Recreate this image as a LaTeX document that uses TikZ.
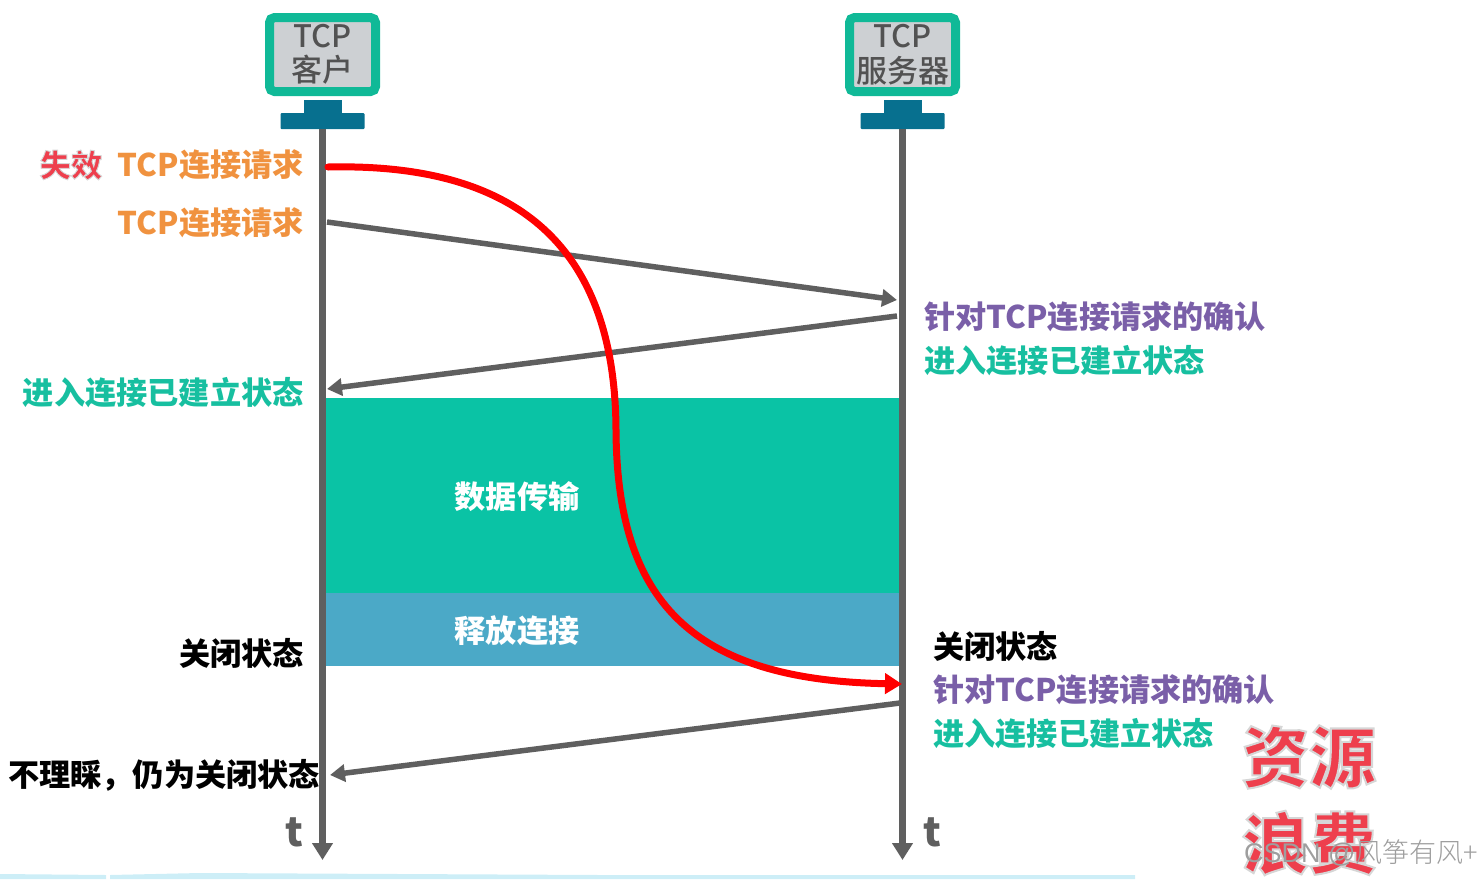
\documentclass[tikz,border=0pt]{standalone}
\usepackage{fontspec}
\setmainfont{Noto Sans CJK SC}
\newfontfamily\halofont[FakeBold=3]{Noto Sans CJK SC Black}
\newfontfamily\monfont{Noto Sans CJK SC Medium}
\newfontfamily\marklatin{Liberation Sans}
\newfontfamily\markcjk{Noto Sans CJK SC Light}
\usetikzlibrary{arrows.meta}
\definecolor{cgreen}{HTML}{10B997}
\definecolor{cscreen}{HTML}{CDD0D3}
\definecolor{cstand}{HTML}{07708F}
\definecolor{caxis}{HTML}{5F5F5F}
\definecolor{cblock}{HTML}{0AC3A5}
\definecolor{crelease}{HTML}{4BA9C7}
\definecolor{corange}{HTML}{F0923F}
\definecolor{cpurple}{HTML}{7A5FA8}
\definecolor{cteal}{HTML}{17BFA0}
\definecolor{cwarn}{HTML}{EE3F4D}
\definecolor{cband}{HTML}{CDEEF7}
\newcommand{\halotext}[1]{{\halofont\special{pdf:code 0.84 0.84 0.84 RG}#1}}
\tikzset{
  lab/.style={inner sep=0pt,font=\fontsize{31.2}{34}\selectfont\bfseries},
  monitor/.style={draw=cgreen,fill=cscreen,line width=9pt,rounded corners=5pt,minimum width=106pt,minimum height=74pt,inner sep=0pt,align=center,text=black!68,font=\fontsize{31}{34.5}\selectfont\monfont},
  standtop/.style={fill=cstand,draw=none,minimum width=38pt,minimum height=16pt,inner sep=0pt},
  standbase/.style={fill=cstand,draw=none,rounded corners=1pt,minimum width=84pt,minimum height=16pt,inner sep=0pt},
  axisline/.style={draw=caxis,line width=7.5pt,-{Triangle[length=17pt,width=20pt]}},
  msg/.style={draw=caxis,line width=5.5pt,-{Triangle[length=15pt,width=17pt]}},
  lost/.style={draw=red,line width=7pt,line cap=round,-{Triangle[length=17pt,width=20pt]}},
  tlabel/.style={inner sep=0pt,text=caxis,font=\fontsize{40}{40}\selectfont\bfseries},
  bigred/.style={inner sep=0pt,text=cwarn,font=\fontsize{67}{70}\selectfont},
  blocklab/.style={lab,text=white}
}
\begin{document}
\begin{tikzpicture}[x=1pt,y=-1pt]
\useasboundingbox (0,0) rectangle (1484,879);
% band at the bottom
\fill[cband] (0,874) -- (106,875) -- (106,879) -- (0,879) -- cycle;
\fill[cband] (110,875) -- (200,873) -- (600,875) -- (1135,875) -- (1135,879) -- (110,879) -- cycle;
% blocks
\node[fill=cblock,minimum width=573pt,minimum height=195pt,inner sep=0pt] (datablock) at (612.5,495.5) {};
\node[fill=crelease,minimum width=573pt,minimum height=73pt,inner sep=0pt] (releaseblock) at (612.5,629.5) {};
\node[blocklab] (datatext) at (517,497) {数据传输};
\node[blocklab] (reltext) at (517,631) {释放连接};
% monitors
\node[monitor] (cscr) at (322.5,54.5) {TCP\\客户};
\node[standtop] (ctop) at (322.5,108) {};
\node[standbase] (cbase) at (322.5,121) {};
\node[monitor] (sscr) at (902.5,54.5) {TCP\\服务器};
\node[standtop] (stop) at (902.5,108) {};
\node[standbase] (sbase) at (902.5,121) {};
% named ends
\coordinate (cend) at (322.5,860);
\coordinate (send) at (902.5,860);
\coordinate (m1a) at (327,222);
\coordinate (m1b) at (897,300);
\coordinate (m2a) at (897,316);
\coordinate (m2b) at (327,389);
\coordinate (m3a) at (900,703);
\coordinate (m3b) at (330,775);
\coordinate (ra) at (328,167);
\coordinate (rm) at (616,430);
\coordinate (rb) at (902,684);
% axes
\draw[axisline] (cbase.south) -- (cend);
\draw[axisline] (sbase.south) -- (send);
% messages
\draw[msg] (m1a) -- (m1b);
\draw[msg] (m2a) -- (m2b);
\draw[msg] (m3a) -- (m3b);
\draw[lost] (ra) .. controls (505,163) and (615,235) .. (rm) .. controls (617,600) and (690,680) .. (rb);
% labels
\node[inner sep=0pt,text=cwarn,font=\fontsize{31.2}{34}\selectfont] (lost) at (71,165) {\halotext{失效}};
\node[lab,text=corange,anchor=east] (req1) at (304,165) {TCP连接请求};
\node[lab,text=corange,anchor=east] (req2) at (304,223) {TCP连接请求};
\node[lab,text=cpurple,anchor=west] (ack1) at (924,317) {针对TCP连接请求的确认};
\node[lab,text=cteal,anchor=west] (est1) at (924,361) {进入连接已建立状态};
\node[lab,text=cteal,anchor=east] (est2) at (304,393) {进入连接已建立状态};
\node[lab,text=black,anchor=east] (closed1) at (304,653) {关闭状态};
\node[lab,text=black,anchor=west] (closed2) at (933,646) {关闭状态};
\node[lab,text=cpurple,anchor=west] (ack2) at (933,690) {针对TCP连接请求的确认};
\node[lab,text=cteal,anchor=west] (est3) at (933,734) {进入连接已建立状态};
\node[lab,text=black,anchor=west] (ignore) at (8,775) {不理睬，仍为关闭状态};
\node[tlabel] (t1) at (294,832) {t};
\node[tlabel] (t2) at (932,832) {t};
\node[bigred] (waste1) at (1309,757) {\halotext{资源}};
\node[bigred] (waste2) at (1309,843) {\halotext{浪费}};
\node[inner sep=0pt,anchor=west,text=black!38,font=\fontsize{27}{30}\selectfont] (mark) at (1244,853) {\marklatin CSDN @\markcjk 风筝有风+};
\end{tikzpicture}
\end{document}
